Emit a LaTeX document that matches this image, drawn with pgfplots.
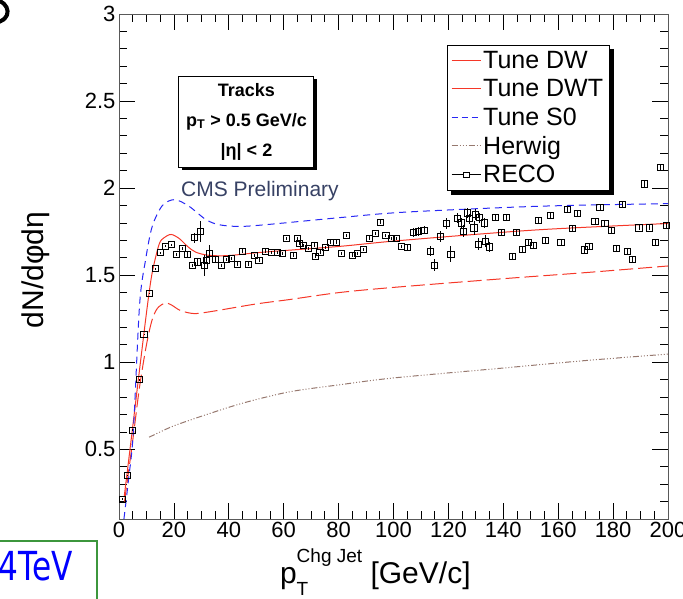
\documentclass[border=0pt]{standalone}
\usepackage{fontspec}
\setmainfont{Liberation Sans}
\newfontfamily\comicfont{DejaVu Sans}
\usepackage{pgfplots}
\pgfplotsset{compat=1.18}
\usepackage{pgfplotstable}
\usetikzlibrary{shadows}

\definecolor{rootred}{RGB}{245,55,40}
\definecolor{rootblue}{RGB}{40,40,245}
\definecolor{herwig}{RGB}{150,120,110}
\definecolor{cmsgray}{RGB}{55,65,100}
\definecolor{slidegreen}{RGB}{60,150,60}

\pgfplotstableread{
x y e
1.1 0.214 0.005
3.0 0.350 0.005
4.9 0.610 0.005
7.3 0.900 0.005
9.1 1.160 0.005
11.2 1.395 0.005
13.4 1.538 0.005
15.2 1.630 0.005
17.0 1.667 0.005
19.2 1.675 0.005
21.0 1.618 0.010
23.1 1.653 0.010
24.9 1.618 0.015
26.6 1.557 0.010
27.4 1.715 0.030
28.6 1.576 0.015
29.6 1.753 0.060
31.0 1.557 0.060
31.8 1.585 0.020
33.0 1.624 0.050
35.2 1.590 0.015
37.3 1.557 0.010
39.1 1.590 0.010
41.0 1.597 0.010
43.1 1.563 0.010
44.9 1.639 0.010
47.0 1.563 0.010
49.2 1.614 0.010
51.0 1.586 0.010
53.2 1.639 0.010
55.6 1.630 0.010
57.7 1.630 0.010
59.5 1.624 0.010
61.1 1.710 0.010
63.4 1.616 0.010
65.0 1.711 0.010
65.6 1.683 0.010
67.1 1.671 0.010
69.0 1.653 0.010
71.1 1.673 0.010
71.6 1.610 0.010
73.2 1.633 0.010
75.3 1.658 0.010
77.1 1.690 0.010
79.2 1.690 0.010
81.1 1.626 0.010
82.8 1.729 0.010
85.0 1.616 0.010
86.9 1.626 0.010
89.0 1.649 0.010
91.1 1.713 0.010
93.3 1.740 0.010
95.1 1.805 0.010
97.2 1.729 0.010
99.1 1.711 0.010
101.2 1.710 0.010
103.0 1.664 0.010
105.0 1.658 0.015
107.2 1.744 0.025
109.0 1.753 0.025
111.1 1.759 0.025
113.3 1.639 0.030
114.9 1.557 0.035
117.2 1.721 0.030
119.4 1.797 0.030
120.9 1.620 0.045
123.2 1.827 0.030
124.8 1.800 0.030
125.6 1.753 0.035
127.0 1.858 0.030
127.6 1.824 0.030
129.3 1.772 0.040
129.8 1.849 0.030
130.8 1.677 0.035
131.3 1.830 0.030
133.1 1.800 0.030
133.6 1.696 0.035
134.9 1.662 0.030
137.2 1.830 0.020
139.4 1.747 0.020
141.0 1.830 0.020
143.3 1.607 0.020
144.9 1.744 0.020
147.1 1.649 0.020
149.1 1.687 0.020
150.9 1.671 0.020
152.7 1.816 0.020
155.2 1.702 0.015
157.3 1.845 0.015
161.0 1.687 0.015
163.3 1.877 0.015
165.3 1.769 0.015
167.1 1.853 0.015
169.4 1.645 0.015
171.2 1.664 0.015
173.4 1.810 0.015
175.2 1.890 0.015
177.0 1.797 0.015
179.5 1.757 0.015
181.1 1.654 0.015
183.4 1.906 0.015
185.3 1.639 0.015
187.1 1.591 0.015
189.4 1.772 0.015
191.3 2.024 0.015
193.2 1.772 0.015
195.5 1.687 0.015
197.1 2.119 0.015
199.3 1.786 0.015
}\reco

\begin{document}
\begin{tikzpicture}
\path[use as bounding box] (0pt,0pt) rectangle (683pt,598pt);
% slide artefacts
\draw[line width=4pt, line cap=round] (0pt,597pt) .. controls (6pt,594pt) and (9pt,588pt) .. (7pt,583pt) .. controls (5pt,579pt) and (2pt,577pt) .. (-1pt,576pt);
\draw[slidegreen, line width=1.2pt] (-5pt,57pt) -- (97pt,57pt) -- (97pt,-5pt);
\node[anchor=base east, text=blue, inner sep=0pt, xscale=0.78] at (73pt,18pt) {\comicfont\fontsize{40}{40}\selectfont 4TeV};

\begin{axis}[
  at={(119pt,79pt)}, anchor=south west,
  scale only axis, width=549pt, height=505pt,
  xmin=0, xmax=200, ymin=0.1, ymax=3,
  xtick={0,20,...,200},
  ytick={0.5,1,1.5,2,2.5,3},
  yticklabels={0.5,1,1.5,2,2.5,3},
  minor xtick={5,10,15,25,30,35,45,50,55,65,70,75,85,90,95,105,110,115,125,130,135,145,150,155,165,170,175,185,190,195},
  minor ytick={0.2,0.3,0.4,0.6,0.7,0.8,0.9,1.1,1.2,1.3,1.4,1.6,1.7,1.8,1.9,2.1,2.2,2.3,2.4,2.6,2.7,2.8,2.9},
  tick align=inside,
  major tick length=16pt, minor tick length=8pt,
  tick style={black, line width=0.8pt},
  axis line style={draw=black!65, line width=0.9pt},
  /pgf/number format/assume math mode=true,
  tick label style={font=\fontsize{22}{26}\selectfont},
  xlabel={p\rlap{\raisebox{-0.38em}{\fontsize{19}{19}\selectfont T}}\raisebox{0.72em}{\fontsize{19}{19}\selectfont Chg Jet} [GeV/c]},
  xlabel style={font=\fontsize{30}{34}\selectfont, anchor=base west, at={(axis description cs:0.293,-0.128)}, inner sep=0pt},
  ylabel={dN/dφdη},
  ylabel style={font=\fontsize{30}{34}\selectfont, anchor=center, at={(axis description cs:-0.151,0.493)}, rotate=0},
  legend cell align=left,
  legend style={
    name=leg,
    at={(axis description cs:0.597,0.939)}, anchor=north west,
    draw=black, line width=0.9pt, fill=white,
    font=\fontsize{25}{25}\selectfont,
    inner xsep=4pt, inner ysep=4pt,
    row sep=5.5pt,
  },
  clip=true,
]
% Tune DW
\addplot[rootred, line width=1pt, smooth, tension=0.5,
  legend image code/.code={\draw[rootred, solid, line width=1pt] (0pt,0pt) -- (29pt,0pt);}]
  coordinates {(1.9,0.23) (3,0.37) (5,0.63) (7.5,0.96) (10.3,1.32) (12.1,1.515) (14.6,1.677) (16.4,1.715) (19.0,1.734) (22,1.71) (25,1.665) (28,1.632) (32.8,1.614) (40,1.613) (53,1.633) (80,1.665) (103,1.70) (152,1.76) (200,1.797)};
\addlegendentry{Tune DW}
% Tune DWT
\addplot[rootred, line width=1pt, smooth, tension=0.5, dash pattern=on 14pt off 5pt,
  legend image code/.code={\draw[rootred, solid, line width=1pt] (0pt,0pt) -- (29pt,0pt);}]
  coordinates {(2,0.2) (5,0.55) (7.5,0.86) (10,1.1) (12,1.24) (14,1.31) (16.8,1.34) (19,1.33) (22,1.30) (25,1.285) (28.3,1.28) (35,1.295) (50,1.335) (62,1.36) (80,1.40) (100,1.43) (140,1.48) (170,1.515) (200,1.553)};
\addlegendentry{Tune DWT}
% Tune S0
\addplot[rootblue, line width=1pt, smooth, tension=0.5, dash pattern=on 7pt off 5pt,
  legend image code/.code={\draw[rootblue, line width=1pt, dash pattern=on 6pt off 4pt] (0pt,0pt) -- (29pt,0pt);}]
  coordinates {(1.8,0.10) (3.5,0.33) (5.2,0.595) (7.5,1.33) (9.7,1.59) (12.1,1.78) (15.8,1.90) (20.3,1.934) (25.5,1.896) (31.6,1.82) (36.4,1.79) (43.7,1.78) (53.4,1.79) (80,1.83) (104,1.862) (153,1.896) (200,1.911)};
\addlegendentry{Tune S0}
% Herwig
\addplot[herwig, line width=1pt, smooth, tension=0.5, dash pattern=on 6pt off 2pt on 1pt off 2pt on 1pt off 2pt on 1pt off 2pt,
  legend image code/.code={\draw[herwig, line width=1pt, dash pattern=on 6pt off 2pt on 1pt off 2pt on 1pt off 2pt on 1pt off 2pt] (0pt,0pt) -- (29pt,0pt);}]
  coordinates {(11,0.57) (15,0.60) (20,0.635) (30,0.69) (45,0.765) (62,0.83) (80,0.87) (100,0.91) (140,0.967) (170,1.01) (200,1.047)};
\addlegendentry{Herwig}
% RECO
\addplot[black, only marks, mark=square, mark size=3.1pt, mark options={line width=0.8pt, fill=none},
  legend image code/.code={\draw[black, solid, line width=0.8pt] (0pt,0pt) -- (11.7pt,0pt) (17.3pt,0pt) -- (29pt,0pt); \draw[black, solid, line width=0.8pt] (11.7pt,-2.8pt) rectangle (17.3pt,2.8pt);},
  error bars/.cd, y dir=both, y explicit, error bar style={line width=0.8pt}, error mark=none]
  table[x=x, y=y, y error=e] {\reco};
\addlegendentry{RECO}

\node[draw=black, line width=1pt, fill=white, minimum width=135pt, minimum height=91pt,
  drop shadow={shadow xshift=3pt, shadow yshift=-3pt, opacity=1, fill=black},
  align=center, font=\bfseries\fontsize{18}{30}\selectfont]
  at (rel axis cs:0.2322,0.787) {Tracks\\p\textsubscript{T} > 0.5 GeV/c\\|η| < 2};
\node[anchor=west, text=cmsgray, font=\fontsize{21}{21}\selectfont, inner sep=0pt]
  at (rel axis cs:0.113,0.6495) {CMS Preliminary};
\end{axis}
\draw[black, line width=4pt] ([xshift=2.45pt,yshift=-4pt]leg.north east) -- ([xshift=2.45pt,yshift=-2.45pt]leg.south east) -- ([xshift=4pt,yshift=-2.45pt]leg.south west);
\end{tikzpicture}
\end{document}
